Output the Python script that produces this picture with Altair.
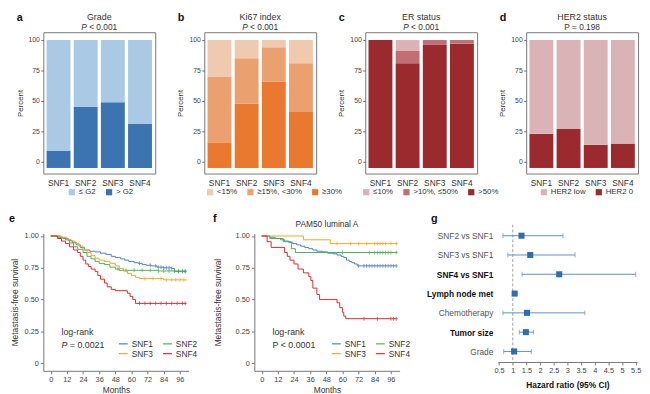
import json
import altair as alt
import numpy as np
import pandas as pd

FONT = "Liberation Sans"
SNF = ["SNF1", "SNF2", "SNF3", "SNF4"]

# ---------------- top row: percent composition ----------------
grade_cats = ["≤ G2", "> G2"]
grade_le_g2 = [91, 55, 51, 69]
grade_gt_g2 = [9, 45, 49, 31]

ki67_cats = ["<15%", "≥15%, <30%", "≥30%"]
ki67_lt15 = [30, 15, 6, 19]
ki67_15_30 = [54, 37, 28, 40]
ki67_ge30 = [16, 48, 66, 41]

er_cats = ["≤10%", ">10%, ≤50%", ">50%"]
er_le10 = [0, 9, 0, 0]
er_10_50 = [0, 10, 4, 3]
er_gt50 = [100, 81, 96, 97]

her2_cats = ["HER2 low", "HER2 0"]
her2_low = [77, 73, 86, 85]
her2_zero = [23, 27, 14, 15]

# ---------------- KM curves, all patients (panel e) ----------------
e_t = {
    "SNF1": [0, 5, 9, 13, 16, 19, 22, 25, 29, 33, 37, 41, 45, 48, 52, 55, 58, 62, 65, 68, 71, 75, 79, 84, 90, 92, 101],
    "SNF2": [0, 7, 11, 14, 17, 20, 24, 27, 30, 33, 36, 40, 44, 48, 51, 80, 101],
    "SNF3": [0, 8, 12, 15, 18, 21, 24, 27, 30, 33, 36, 40, 44, 48, 51, 54, 57, 60, 63, 66, 84, 101],
    "SNF4": [0, 5, 8, 11, 14, 17, 20, 22, 24, 26, 28, 30, 33, 35, 37, 40, 42, 45, 48, 57, 59, 61, 63, 101],
}
e_s = {
    "SNF1": [1.0, 0.99, 0.98, 0.965, 0.95, 0.93, 0.91, 0.89, 0.88, 0.875, 0.865, 0.855, 0.84, 0.83, 0.82, 0.81, 0.80, 0.79, 0.785, 0.775, 0.77, 0.765, 0.755, 0.75, 0.745, 0.72, 0.72],
    "SNF2": [1.0, 0.985, 0.97, 0.945, 0.915, 0.895, 0.87, 0.84, 0.82, 0.80, 0.785, 0.775, 0.755, 0.74, 0.73, 0.725, 0.725],
    "SNF3": [1.0, 0.99, 0.975, 0.96, 0.94, 0.92, 0.895, 0.87, 0.845, 0.825, 0.81, 0.80, 0.785, 0.765, 0.745, 0.725, 0.705, 0.69, 0.675, 0.665, 0.655, 0.65],
    "SNF4": [1.0, 0.98, 0.96, 0.94, 0.915, 0.89, 0.87, 0.84, 0.81, 0.78, 0.76, 0.74, 0.72, 0.69, 0.66, 0.63, 0.60, 0.58, 0.57, 0.55, 0.525, 0.50, 0.47, 0.47],
}
e_censor = {
    "SNF1": [66, 74, 78, 80, 82, 84, 86, 88, 90, 95, 98, 100],
    "SNF2": [50, 56, 62, 68, 74, 80, 84, 88, 92, 95, 98, 100],
    "SNF3": [70, 76, 82, 86, 90, 93, 96, 99],
    "SNF4": [66, 70, 74, 78, 82, 86, 90, 94, 98, 100],
}

# ---------------- KM curves, PAM50 luminal A (panel f) ----------------
f_t = {
    "SNF1": [0, 6, 10, 14, 17, 20, 23, 26, 29, 32, 35, 38, 41, 45, 49, 53, 56, 59, 61, 63, 65, 67, 69, 71, 101],
    "SNF2": [0, 6, 16, 22, 25, 101],
    "SNF3": [0, 31, 51, 101],
    "SNF4": [0, 4, 7, 17, 19, 21, 24, 27, 31, 35, 36.5, 38, 41, 43, 56, 58, 60, 61, 62.5, 101],
}
f_s = {
    "SNF1": [1.0, 0.99, 0.98, 0.97, 0.96, 0.95, 0.94, 0.93, 0.92, 0.91, 0.90, 0.89, 0.88, 0.875, 0.865, 0.86, 0.85, 0.84, 0.83, 0.81, 0.80, 0.79, 0.78, 0.765, 0.765],
    "SNF2": [1.0, 0.98, 0.955, 0.90, 0.87, 0.87],
    "SNF3": [1.0, 0.97, 0.94, 0.94],
    "SNF4": [1.0, 0.955, 0.91, 0.87, 0.84, 0.81, 0.78, 0.74, 0.71, 0.68, 0.65, 0.59, 0.54, 0.50, 0.475, 0.436, 0.40, 0.37, 0.35, 0.35],
}
f_censor = {
    "SNF1": [72, 76, 78, 80, 82, 84, 86, 88, 90, 92, 94, 96, 98, 100],
    "SNF2": [60, 80, 84, 86, 88, 90, 92, 94, 96, 100],
    "SNF3": [56, 66, 72, 78, 84, 86, 88, 90, 92, 96, 100],
    "SNF4": [76, 86, 96, 98, 100],
}

# ---------------- forest plot (panel g) ----------------
hr_labels = ["SNF2 vs SNF1", "SNF3 vs SNF1", "SNF4 vs SNF1", "Lymph node met",
             "Chemotherapy", "Tumor size", "Grade"]
hr_est = [1.32, 1.64, 2.70, 1.07, 1.52, 1.48, 1.05]
hr_low = [0.64, 0.82, 1.34, 1.03, 0.64, 1.24, 0.67]
hr_high = [2.84, 3.28, 5.50, 1.12, 3.64, 1.76, 1.68]
hr_bold = ["SNF4 vs SNF1", "Lymph node met", "Tumor size"]
hr_ticks = [0.5, 1, 1.5, 2, 2.5, 3, 3.5, 4, 4.5, 5, 5.5]

KM_COLORS = ["#4a80c4", "#4caf50", "#f5a524", "#e0282e"]

# ---------------- sizes ----------------
TW, TH = 114, 144
KW, KH = 148, 140
GW, GH = 142, 131
BASE = -5


def txt(s, x, y, size=9, weight="normal", style="normal", align="left",
        baseline="middle", color="#333"):
    return alt.Chart(pd.DataFrame({"k": [0]})).mark_text(
        text=s, align=align, baseline=baseline, fontSize=size, fontWeight=weight,
        fontStyle=style, color=color, font=FONT
    ).encode(x=alt.value(x), y=alt.value(y))


def stack_table(segments):
    rows = []
    for i, s in enumerate(SNF):
        cum = 0
        for j, (lab, vals) in enumerate(segments):
            v = vals[i]
            rows.append({"snf": s, "cat": lab, "y0": BASE if j == 0 else cum, "y1": cum + v})
            cum += v
    return pd.DataFrame(rows)


def bar_panel(letter, title, p_line, italic_p, segments, cats, colors, legend_x):
    df = stack_table(segments)
    bars = alt.Chart(df).mark_bar().encode(
        x=alt.X("snf:N", sort=SNF,
                scale=alt.Scale(paddingInner=0.12, paddingOuter=0.12),
                axis=alt.Axis(title=None, labelAngle=0, ticks=False, domain=False,
                              labelFontSize=8.5, labelColor="#333", labelPadding=5)),
        y=alt.Y("y0:Q", scale=alt.Scale(domain=[-9.6, 106.4], nice=False, zero=False),
                axis=alt.Axis(values=[0, 25, 50, 75, 100], title="Percent",
                              titleFontSize=8, titleFontWeight="normal", titleColor="#333",
                              labelFontSize=7, labelColor="#444", tickSize=2.5,
                              tickColor="#666", labelPadding=1.5, domain=False,
                              titlePadding=4, grid=False)),
        y2="y1:Q",
        color=alt.Color("cat:N", scale=alt.Scale(domain=cats, range=colors),
                        legend=alt.Legend(orient="none", legendX=legend_x, legendY=TH + 15,
                                          direction="horizontal", title=None,
                                          symbolType="square", symbolSize=40,
                                          symbolStrokeWidth=0,
                                          labelFontSize=8, labelColor="#333",
                                          labelFont=FONT, columnPadding=9,
                                          labelOffset=3, padding=0)),
    )
    cx = TW / 2
    layers = [bars,
              txt(letter, -27, -20, size=11, weight="bold", baseline="top", color="#111"),
              txt(title, cx, -15, size=9, align="center")]
    if italic_p:
        layers += [txt("P", cx - 12.6, -5, size=8.5, style="italic", align="right"),
                   txt(p_line, cx - 10.3, -5, size=8.5, align="left")]
    else:
        layers += [txt(p_line, cx, -5, size=8.5, align="center")]
    return alt.layer(*layers).properties(
        width=TW, height=TH, view=alt.ViewBackground(stroke="#777", strokeWidth=1))


panel_a = bar_panel("a", "Grade", "< 0.001", True,
                    [("> G2", grade_gt_g2), ("≤ G2", grade_le_g2)],
                    grade_cats, ["#a9c9e4", "#3b74b0"], 25)
panel_b = bar_panel("b", "Ki67 index", "< 0.001", True,
                    [("≥30%", ki67_ge30), ("≥15%, <30%", ki67_15_30), ("<15%", ki67_lt15)],
                    ki67_cats, ["#efcaae", "#eba070", "#e8792e"], 2)
panel_c = bar_panel("c", "ER status", "< 0.001", True,
                    [(">50%", er_gt50), (">10%, ≤50%", er_10_50), ("≤10%", er_le10)],
                    er_cats, ["#dcb2b5", "#bf6e74", "#9a2a2d"], -3)
panel_d = bar_panel("d", "HER2 status", "P = 0.198", False,
                    [("HER2 0", her2_zero), ("HER2 low", her2_low)],
                    her2_cats, ["#d9b3b6", "#9a2a2d"], 14)


def km_tables(tt, ss, cens):
    rows, crow = [], []
    for g in SNF:
        for ti, si in zip(tt[g], ss[g]):
            rows.append({"grp": g, "t": ti, "s": si})
        for c in cens[g]:
            idx = int(np.searchsorted(tt[g], c, side="right")) - 1
            crow.append({"grp2": g, "t": c, "s": ss[g][idx]})
    return pd.DataFrame(rows), pd.DataFrame(crow)


def km_panel(letter, tt, ss, cens, ptext, italic_p, title, title_pad, letter_x, legend_x,
             right_pad=None):
    df, cdf = km_tables(tt, ss, cens)
    xax = alt.Axis(values=list(range(0, 97, 12)), title="Months", titleFontSize=8.5,
                   titleFontWeight="normal", titleColor="#333", labelFontSize=7.5,
                   labelColor="#444", tickSize=3, tickColor="#777", domainColor="#777",
                   titlePadding=3, labelPadding=2, grid=False)
    yax = alt.Axis(values=[0, 0.25, 0.5, 0.75, 1.0],
                   labelExpr="datum.value == 0 ? '0' : format(datum.value, '.2f')",
                   title="Metastasis-free survival", titleFontSize=8.5,
                   titleFontWeight="normal", titleColor="#333", labelFontSize=7.5,
                   labelColor="#444", tickSize=3, tickColor="#777", domainColor="#777",
                   titlePadding=title_pad, labelPadding=2, grid=False)
    xs = alt.Scale(domain=[-5.5, 102.5], nice=False, zero=False)
    ys = alt.Scale(domain=[-0.06, 1.02], nice=False, zero=False)
    lines = alt.Chart(df).mark_line(interpolate="step-after", strokeWidth=1).encode(
        x=alt.X("t:Q", scale=xs, axis=xax),
        y=alt.Y("s:Q", scale=ys, axis=yax),
        color=alt.Color("grp:N", scale=alt.Scale(domain=SNF, range=KM_COLORS),
                        legend=alt.Legend(orient="none", legendX=legend_x, legendY=107,
                                          columns=2, direction="horizontal", title=None,
                                          symbolType="stroke",
                                          symbolSize=81, symbolStrokeWidth=1.2,
                                          labelFontSize=8.5, labelColor="#333",
                                          labelFont=FONT, columnPadding=7, rowPadding=0,
                                          labelOffset=3, padding=0)),
    )
    ticks = alt.Chart(cdf).mark_tick(orient="vertical", size=4, thickness=1).encode(
        x=alt.X("t:Q", scale=xs, axis=xax),
        y=alt.Y("s:Q", scale=ys, axis=yax),
        color=alt.Color("grp2:N", scale=alt.Scale(domain=SNF, range=KM_COLORS), legend=None),
    )
    layers = [lines, ticks,
              txt(letter, letter_x, -21, size=11, weight="bold", baseline="top", color="#111"),
              txt("log-rank", 18.5, 100, size=9)]
    if italic_p:
        layers += [txt("P", 18.5, 113.5, size=9, style="italic"),
                   txt(ptext, 27, 113.5, size=9)]
    else:
        layers += [txt(ptext, 18.5, 113.5, size=9)]
    if title:
        layers.append(txt(title, KW / 2, -10, size=8.5, align="center"))
    if right_pad:
        layers.append(alt.Chart(pd.DataFrame({"k": [0]})).mark_rule(opacity=0).encode(
            x=alt.value(KW + right_pad - 1), x2=alt.value(KW + right_pad), y=alt.value(0)))
    return alt.layer(*layers).resolve_scale(color="independent").properties(width=KW, height=KH)


panel_e = km_panel("e", e_t, e_s, e_censor, "= 0.0021", True, None, 5, -35, 76, right_pad=6)
panel_f = km_panel("f", f_t, f_s, f_censor, "P < 0.0001", False, "PAM50 luminal A", 13, -42, 78)

# forest plot
fdf = pd.DataFrame({"label": hr_labels, "hr": hr_est, "lo": hr_low, "hi": hr_high})
gxs = alt.Scale(domain=[0.45, 5.55], nice=False, zero=False)
gys = alt.Scale(type="point", domain=hr_labels, padding=0.333, align=0.177)
bold_test = "indexof(" + json.dumps(hr_bold) + ", datum.value) >= 0"
gxax = alt.Axis(values=hr_ticks, format="~g", title="Hazard ratio (95% CI)",
                titleFontSize=8.5, titleFontWeight="bold", titleColor="#111",
                labelFontSize=7.5, labelColor="#444", tickSize=3, tickColor="#777",
                domainColor="#777", titlePadding=6, labelPadding=2, grid=False)
gyax = alt.Axis(title=None, domain=False, ticks=False, labelFontSize=8.5, labelPadding=5,
                labelFontWeight={"condition": {"test": bold_test, "value": "bold"}, "value": "normal"},
                labelColor={"condition": {"test": bold_test, "value": "#111"}, "value": "#555"},
                grid=False)
gbase = alt.Chart(fdf)
ci = gbase.mark_rule(color="#5b8fcc", strokeWidth=1).encode(
    x=alt.X("lo:Q", scale=gxs, axis=gxax, title="Hazard ratio (95% CI)"),
    x2="hi:Q",
    y=alt.Y("label:N", sort=hr_labels, scale=gys, axis=gyax),
)
cap_lo = gbase.mark_tick(orient="vertical", size=5, thickness=1, color="#5b8fcc").encode(
    x=alt.X("lo:Q", scale=gxs, axis=gxax, title="Hazard ratio (95% CI)"),
    y=alt.Y("label:N", sort=hr_labels, scale=gys, axis=gyax),
)
cap_hi = gbase.mark_tick(orient="vertical", size=5, thickness=1, color="#5b8fcc").encode(
    x=alt.X("hi:Q", scale=gxs, axis=gxax, title="Hazard ratio (95% CI)"),
    y=alt.Y("label:N", sort=hr_labels, scale=gys, axis=gyax),
)
pts = gbase.mark_square(size=38, color="#2e6db0", opacity=1).encode(
    x=alt.X("hr:Q", scale=gxs, axis=gxax, title="Hazard ratio (95% CI)"),
    y=alt.Y("label:N", sort=hr_labels, scale=gys, axis=gyax),
)
ref_line = alt.Chart(pd.DataFrame({"v": [1.0]})).mark_rule(
    strokeDash=[3, 2], color="#888", strokeWidth=0.8).encode(
    x=alt.X("v:Q", scale=gxs, axis=gxax, title="Hazard ratio (95% CI)"),
    y=alt.value(-9), y2=alt.value(GH),
)
panel_g = alt.layer(
    ref_line, ci, cap_lo, cap_hi, pts,
    txt("g", -68, -21, size=11, weight="bold", baseline="top", color="#111"),
).properties(width=GW, height=GH)

top = alt.hconcat(panel_a, panel_b, panel_c, panel_d, spacing=50, bounds="flush").resolve_scale(
    x="independent", y="independent", color="independent").resolve_legend(color="independent")
bottom = alt.hconcat(panel_e, panel_f, panel_g, spacing=14).resolve_scale(
    x="independent", y="independent", color="independent").resolve_legend(color="independent")

chart = alt.vconcat(top, bottom, spacing=15).resolve_scale(
    x="independent", y="independent", color="independent").resolve_legend(
    color="independent").properties(padding=0, background="white").configure(
    font=FONT).configure_view(stroke="transparent").configure_axis(
    labelFont=FONT, titleFont=FONT).configure_legend(labelFont=FONT)

chart.save("out.html", embed_options={"renderer": "svg", "actions": False})
